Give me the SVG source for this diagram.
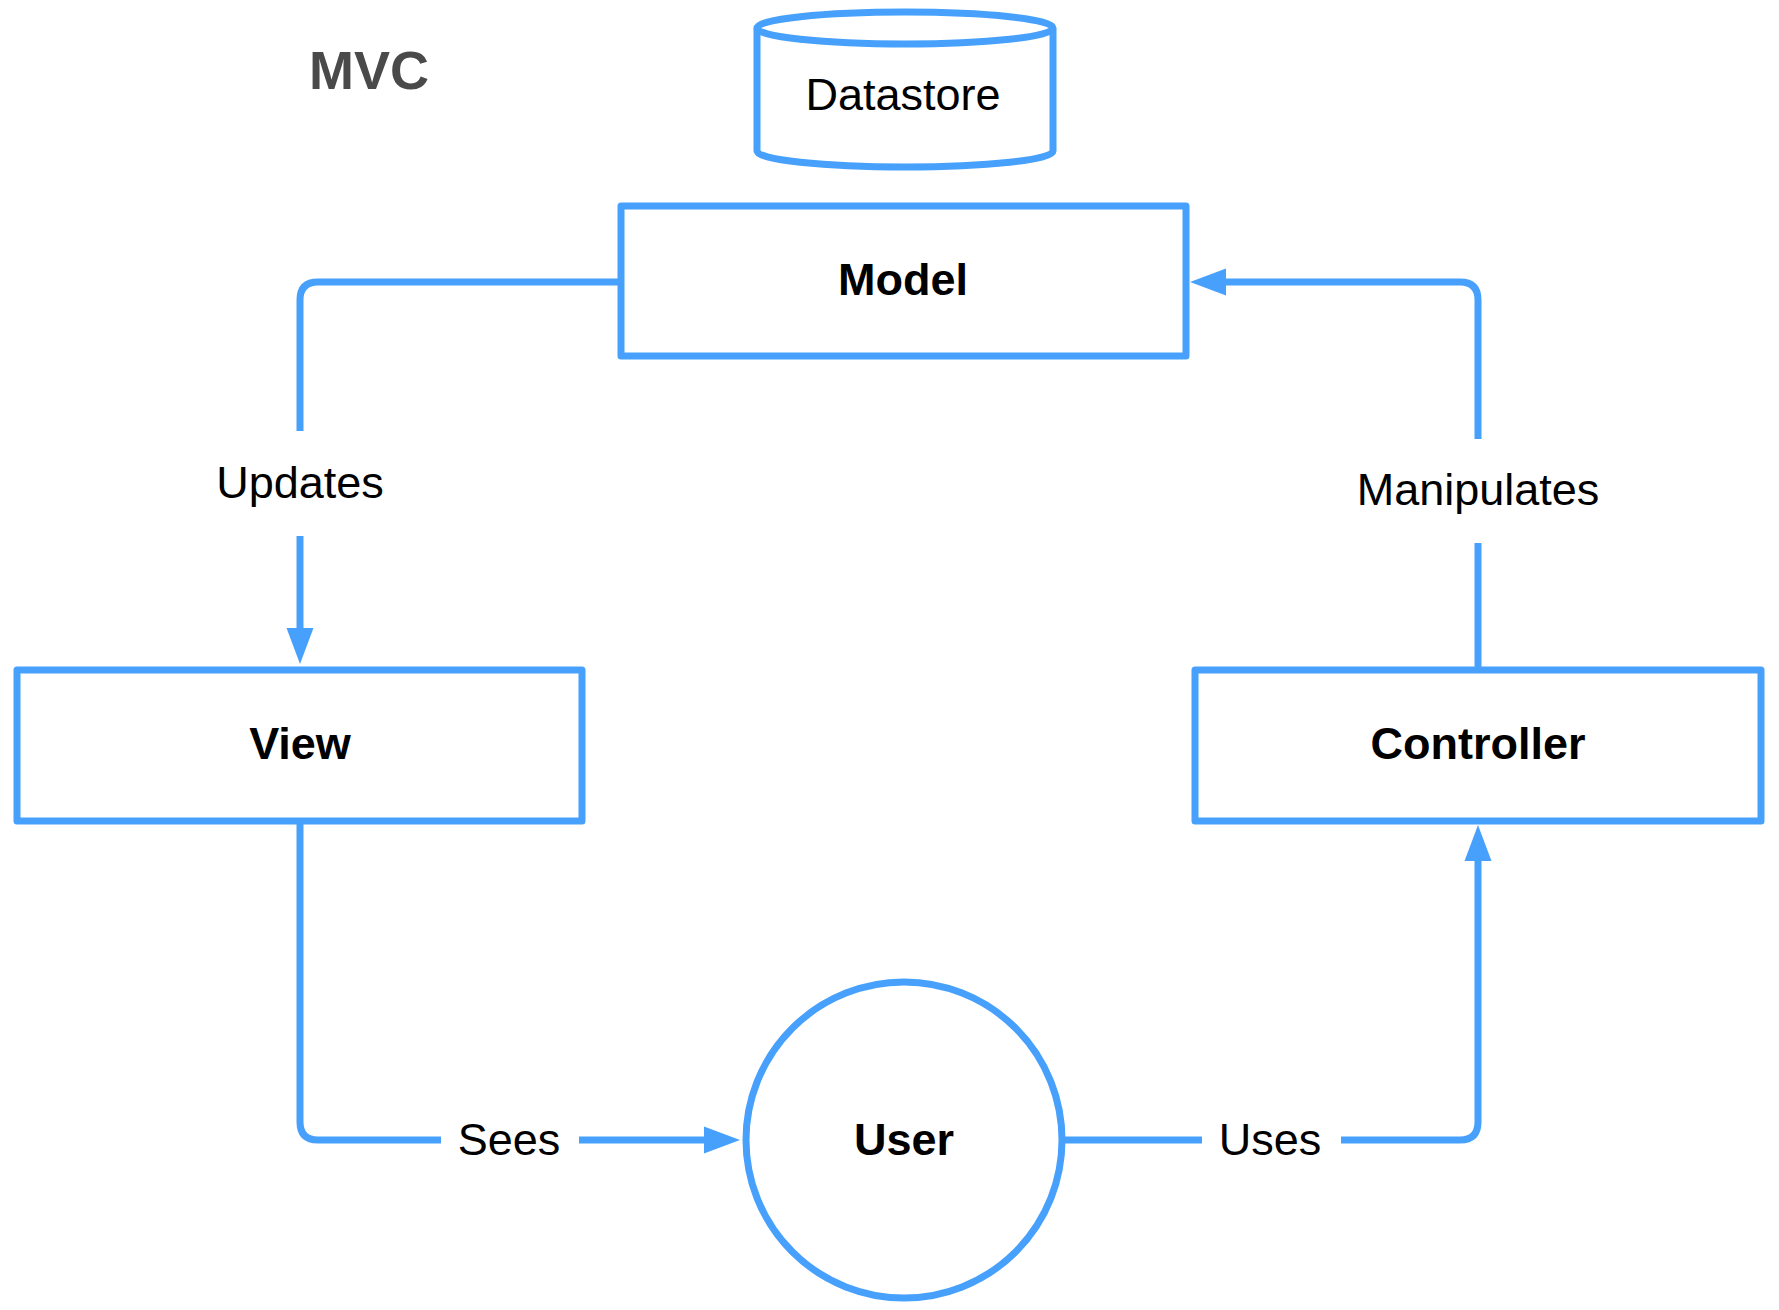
<svg xmlns="http://www.w3.org/2000/svg" width="1779" height="1310" viewBox="0 0 1779 1310">
<style>
.shape{fill:#fff;stroke:#47a1fc;stroke-width:7;stroke-linejoin:round}
.edge{fill:none;stroke:#47a1fc;stroke-width:7}
.lbl{font-family:"Liberation Sans",Arial,sans-serif;font-size:45px;fill:#000;text-anchor:middle}
.bold{font-weight:bold}
</style>
<defs>
<marker id="arrow" markerUnits="userSpaceOnUse" markerWidth="37" markerHeight="28" refX="0" refY="14" orient="auto" viewBox="0 0 37 28">
<path d="M0,0.5 L36,14 L0,27.5 z" fill="#47a1fc"/>
</marker>
</defs>
<rect width="1779" height="1310" fill="#fff"/>
<text x="309" y="89" style="font-family:'Liberation Sans',Arial,sans-serif;font-size:54px;font-weight:bold;fill:#4a4a4a">MVC</text>
<g id="connectors">
<path class="edge" d="M621,282 H318 Q300,282 300,300 V431"/>
<path class="edge" d="M300,536 V628" marker-end="url(#arrow)"/>
<text class="lbl" x="300" y="498">Updates</text>
<path class="edge" d="M1478,670 V543"/>
<path class="edge" d="M1478,439 V300 Q1478,282 1460,282 H1226" marker-end="url(#arrow)"/>
<text class="lbl" x="1478" y="505">Manipulates</text>
<path class="edge" d="M300,821 V1122 Q300,1140 318,1140 H441"/>
<path class="edge" d="M579,1140 H704" marker-end="url(#arrow)"/>
<text class="lbl" x="509" y="1155">Sees</text>
<path class="edge" d="M1062,1140 H1202"/>
<path class="edge" d="M1341,1140 H1460 Q1478,1140 1478,1122 V861" marker-end="url(#arrow)"/>
<text class="lbl" x="1270" y="1155">Uses</text>
</g>
<g id="datastore">
<path class="shape" d="M757,28 V151 A148,16 0 0 0 1053,151 V28"/>
<ellipse class="shape" cx="905" cy="28" rx="148" ry="16"/>
<text class="lbl" x="903" y="110">Datastore</text>
</g>
<g id="model">
<rect class="shape" x="621" y="206" width="565" height="150"/>
<text class="lbl bold" x="903" y="295">Model</text>
</g>
<g id="view">
<rect class="shape" x="17" y="670" width="565" height="151"/>
<text class="lbl bold" x="300" y="759">View</text>
</g>
<g id="controller">
<rect class="shape" x="1195" y="670" width="566" height="151"/>
<text class="lbl bold" x="1478" y="759">Controller</text>
</g>
<g id="user">
<circle class="shape" cx="904" cy="1140" r="158"/>
<text class="lbl bold" x="904" y="1155">User</text>
</g>
</svg>
